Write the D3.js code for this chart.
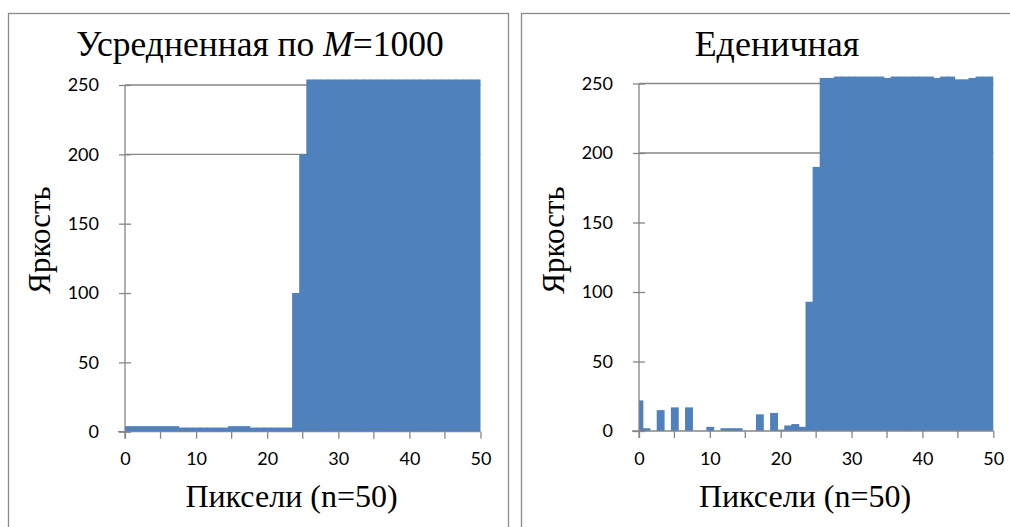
<!DOCTYPE html>
<html>
<head>
<meta charset="utf-8">
<script src="https://cdn.jsdelivr.net/npm/d3@7"></script>
<style>
  body { margin: 0; background: #fff; }
  svg { display: block; }
</style>
</head>
<body>
<div id="chart"></div>
<script>
// pixel index along the line (n = 50)
const pixels = d3.range(0, 51);

// brightness averaged over M=1000 frames
const averaged = [
    4, 4, 4, 4, 4, 4, 4, 4, 3, 3, 3, 3, 3, 3, 3, 4, 4, 4, 3, 3, 3, 3, 3, 3,
    100, 200,
    254, 254, 254, 254, 254, 254, 254, 254, 254, 254, 254, 254, 254,
    254, 254, 254, 254, 254, 254, 254, 254, 254, 254, 254, 254
];

// brightness of a single frame
const single = [
    22, 2, 0, 15, 0, 17, 0, 17, 0, 0, 3, 0, 2, 2, 2, 0, 0, 12, 0, 13, 1, 4, 5, 3,
    93, 190,
    254, 254, 255, 255, 255, 255, 255, 255, 255, 254, 255, 255, 255,
    255, 255, 255, 254, 255, 255, 253, 253, 254, 255, 255, 255
];

const xTickLabels = [0, 10, 20, 30, 40, 50];
const xMinorTicks = [0, 5, 10, 15, 20, 25, 30, 35, 40, 45, 50];
const yTickLabels = [0, 50, 100, 150, 200, 250];
const gridLevels = [200, 250];

const barColor = '#4f81bd';
const axisColor = '#868686';
const serifStyle = "font-family:'Liberation Serif'";
const sansStyle = "font-family:'Lato'";

const svg = d3.select('#chart').append('svg')
    .attr('width', 1010)
    .attr('height', 527);

const drawPanel = cfg => {
    const g = svg.append('g');

    // outer chart frame
    g.append('rect')
        .attr('x', cfg.frame[0] + 0.5)
        .attr('y', cfg.frame[1] + 0.5)
        .attr('width', cfg.frame[2])
        .attr('height', 600)
        .attr('fill', '#fff')
        .attr('stroke', '#8a8a8a')
        .attr('stroke-width', 1.3);

    const x = d3.scaleLinear()
        .domain([0, 50])
        .range([cfg.left, cfg.right])
        .clamp(true);
    const y = d3.scaleLinear()
        .domain([0, 250])
        .range([cfg.bottom, cfg.top]);

    // the few horizontal grid lines
    g.selectAll('line.grid')
            .data(gridLevels)
        .enter().append('line')
            .attr('x1', x(0))
            .attr('x2', x(50))
            .attr('y1', d => y(d))
            .attr('y2', d => y(d))
            .attr('stroke', axisColor)
            .attr('stroke-width', 1.3);

    // bars, one pixel wide, centred on each pixel index
    // (widened by a hair so neighbours overlap and leave no seams)
    g.selectAll('rect.bar')
            .data(pixels.filter(i => cfg.values[i] > 0))
        .enter().append('rect')
            .attr('x', i => x(i - 0.5))
            .attr('width', i => x(i + 0.5) - x(i - 0.5) + (i < 50 ? 0.8 : 0))
            .attr('y', i => y(cfg.values[i]))
            .attr('height', i => y(0) - y(cfg.values[i]))
            .attr('fill', barColor);

    // y axis
    const yAxis = g.append('g')
        .attr('transform', 'translate(' + x(0) + ',0)')
        .call(d3.axisLeft(y).tickValues(yTickLabels).tickSizeInner(6).tickSizeOuter(0).tickPadding(20));
    yAxis.select('.domain').attr('stroke', axisColor).attr('stroke-width', 1.3)
        .attr('d', 'M0,' + y(250) + 'V' + (y(0) + 7));
    yAxis.selectAll('.tick line').attr('x1', 6).attr('x2', -6)
        .attr('stroke', axisColor).attr('stroke-width', 1.3);
    yAxis.selectAll('.tick text')
        .attr('style', sansStyle).attr('font-size', 18).attr('fill', '#000');

    // x axis
    const xAxis = g.append('g')
        .attr('transform', 'translate(0,' + y(0) + ')')
        .call(d3.axisBottom(x).tickValues(xTickLabels).tickSizeInner(7).tickSizeOuter(0).tickPadding(14));
    xAxis.select('.domain').attr('stroke', axisColor).attr('stroke-width', 1.3)
        .attr('d', 'M' + (x(0) - 7) + ',0H' + x(50));
    xAxis.selectAll('.tick line').attr('stroke', axisColor).attr('stroke-width', 1.3);
    xAxis.selectAll('.tick text')
        .attr('style', sansStyle).attr('font-size', 18).attr('fill', '#000');
    xAxis.selectAll('line.minor')
            .data(xMinorTicks.filter(d => !xTickLabels.includes(d)))
        .enter().append('line')
            .attr('x1', d => x(d)).attr('x2', d => x(d))
            .attr('y1', 0).attr('y2', 7)
            .attr('stroke', axisColor).attr('stroke-width', 1.3);

    // chart title
    const title = g.append('text')
        .attr('style', serifStyle)
        .attr('x', cfg.titleX)
        .attr('y', 56)
        .attr('text-anchor', 'middle')
        .attr('font-size', cfg.titleSize)
        .attr('fill', '#000');
    cfg.title.forEach(part => {
        title.append('tspan')
            .attr('font-style', part.italic ? 'italic' : 'normal')
            .text(part.text);
    });

    // axis titles
    g.append('text')
        .attr('style', serifStyle)
        .attr('x', cfg.xTitleX)
        .attr('y', 507)
        .attr('text-anchor', 'middle')
        .attr('font-size', 32)
        .attr('fill', '#000')
        .text('Пиксели (n=50)');

    g.append('text')
        .attr('style', serifStyle)
        .attr('transform', 'translate(' + cfg.yTitleX + ',240) rotate(-90)')
        .attr('text-anchor', 'middle')
        .attr('font-size', 31)
        .attr('fill', '#000')
        .text('Яркость');
};

drawPanel({
    frame: [8, 13, 500],
    left: 125, right: 480.5, top: 85, bottom: 431.7,
    values: averaged,
    title: [{text: 'Усредненная по '}, {text: 'M', italic: true}, {text: '=1000'}],
    titleX: 260,
    titleSize: 35.5,
    xTitleX: 291.5,
    yTitleX: 50
});

drawPanel({
    frame: [521, 13, 520],
    left: 639, right: 993.3, top: 83.5, bottom: 431,
    values: single,
    title: [{text: 'Еденичная'}],
    titleX: 777,
    titleSize: 36,
    xTitleX: 805,
    yTitleX: 564
});
</script>
</body>
</html>
